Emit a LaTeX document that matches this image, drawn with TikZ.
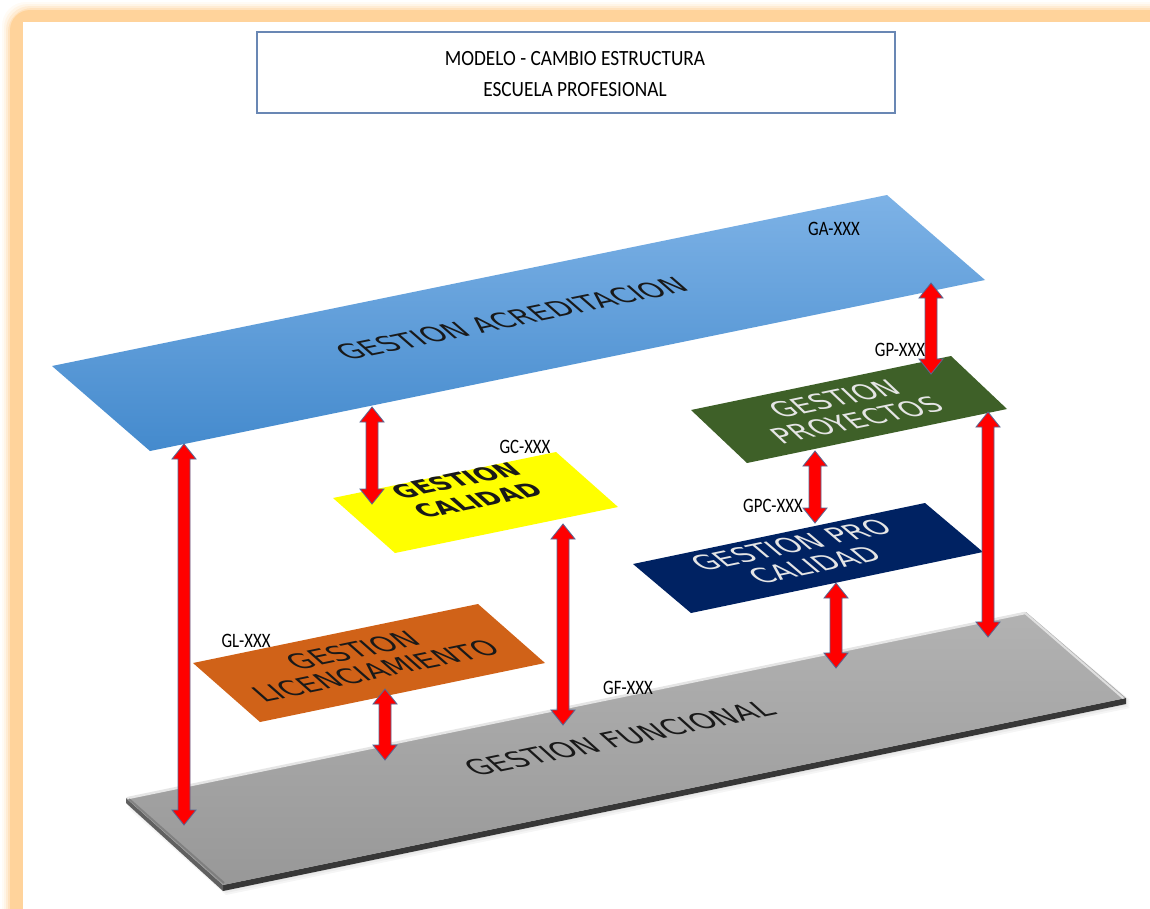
\documentclass[tikz,border=0pt]{standalone}
\usepackage{fontspec}
\usetikzlibrary{calc}
\newfontfamily\planefont{DejaVu Sans}
\newfontfamily\planefontbold{DejaVu Sans Bold}
\newfontfamily\tagfont[FakeStretch=0.82]{Carlito}
\newfontfamily\headfont[FakeStretch=0.89]{Carlito}

\definecolor{framecol}{RGB}{255,211,155}
\definecolor{titleline}{RGB}{105,135,180}
\definecolor{gaTop}{RGB}{125,178,230}
\definecolor{gaMid}{RGB}{92,162,226}
\definecolor{gaBot}{RGB}{68,138,205}
\definecolor{gfTop}{RGB}{178,178,178}
\definecolor{gfBot}{RGB}{152,152,152}
\definecolor{gfEdge}{RGB}{55,55,55}
\definecolor{gcFill}{RGB}{255,255,0}
\definecolor{gpFill}{RGB}{62,96,40}
\definecolor{gpcFill}{RGB}{0,34,98}
\definecolor{glFill}{RGB}{208,98,24}
\definecolor{arrowFill}{RGB}{255,0,0}
\definecolor{arrowLine}{RGB}{85,105,150}
\definecolor{inkdark}{RGB}{25,25,25}

\tikzset{
  planetext/.style={inner sep=0pt, align=center, transform shape,
    font=\planefont\fontsize{28.5}{31}\selectfont, text=inkdark},
  tagtext/.style={inner sep=0pt, font=\tagfont\fontsize{20.5}{24}\selectfont, text=black},
  biarrow/.style={fill=arrowFill, draw=arrowLine, line width=0.8pt, line join=miter},
}

% double-headed block arrow between two vertically aligned points (top, bottom)
\newcommand\bidir[2]{%
  \path[biarrow] let \p1=(#1), \p2=(#2) in
    (\x1,\y1) -- (\x1+12pt,\y1-15pt) -- (\x1+6pt,\y1-15pt) --
    (\x1+6pt,\y2+15pt) -- (\x1+12pt,\y2+15pt) -- (\x1,\y2) --
    (\x1-12pt,\y2+15pt) -- (\x1-6pt,\y2+15pt) -- (\x1-6pt,\y1-15pt) --
    (\x1-12pt,\y1-15pt) -- cycle;}

\begin{document}
\begin{tikzpicture}[x=1pt, y=-1pt]
\useasboundingbox (0,0) rectangle (1150,908);

% glowing frame
\begin{scope}
  \clip (0,0) rectangle (1150,908);
  \foreach \d/\o in {7/0.1,5/0.15,3/0.25,1/0.4}
    {\fill[framecol, opacity=\o, rounded corners=24pt] (9-\d,9-\d) rectangle (1200,960);}
  \fill[framecol, rounded corners=20pt] (10,10) rectangle (1200,960);
  \fill[white] (23,22) rectangle (1200,960);
\end{scope}

% title box
\node[draw=titleline, line width=1.3pt, minimum width=638pt, minimum height=81pt, inner sep=0pt] (title) at (576,72.5) {};
\node[inner sep=0pt, align=center, font=\headfont\fontsize{21.7}{31}\selectfont] (titletext) at (575,74.5)
  {MODELO - CAMBIO ESTRUCTURA\\ESCUELA PROFESIONAL};

% plane corners: L left, T top, R right, B bottom
\coordinate (GA-L) at (52,366);   \coordinate (GA-T) at (887,195);
\coordinate (GA-R) at (985,280);  \coordinate (GA-B) at (150,451);
\coordinate (GF-L) at (126,798);  \coordinate (GF-T) at (1026,612);
\coordinate (GF-R) at (1126,698); \coordinate (GF-B) at (223,885);
\coordinate (GC-L) at (333,498);  \coordinate (GC-T) at (556,452);
\coordinate (GC-R) at (618,507);  \coordinate (GC-B) at (395,553);
\coordinate (GP-L) at (691,410);  \coordinate (GP-T) at (951,356);
\coordinate (GP-R) at (1007,409); \coordinate (GP-B) at (747,463);
\coordinate (GPC-L) at (633,564); \coordinate (GPC-T) at (925,503);
\coordinate (GPC-R) at (983,552); \coordinate (GPC-B) at (691,613);
\coordinate (GL-L) at (193,663);  \coordinate (GL-T) at (478,604);
\coordinate (GL-R) at (545,663);  \coordinate (GL-B) at (260,722);

% functional slab: shadow, side faces, top face
\foreach \k in {2,4,6,8,10}
  {\fill[black, opacity=0.04] ($(GF-L)+(2,\k)$) -- ($(GF-B)+(3,\k)$) -- ($(GF-R)+(4,\k)$) -- ($(GF-T)+(2,\k)$) -- cycle;}
\fill[gfEdge] (GF-B) -- (GF-R) -- ($(GF-R)+(0,6)$) -- ($(GF-B)+(0,6)$) -- cycle;
\fill[gray!75!black] (GF-L) -- (GF-B) -- ($(GF-B)+(0,6)$) -- ($(GF-L)+(0,5)$) -- cycle;
\path[top color=gfTop, bottom color=gfBot] (GF-L) -- (GF-T) -- (GF-R) -- (GF-B) -- cycle;
\draw[white!80!gray, line width=2.5pt, line cap=round] ($(GF-L)+(2,0)$) -- ($(GF-T)+(-1,1)$);
\draw[white!75!gray, line width=2pt, line cap=round] ($(GF-T)+(-1,1)$) -- ($(GF-R)+(-3,0)$);
\draw[gray!80!black, line width=2pt, opacity=0.5] ($(GF-L)+(3,1)$) -- ($(GF-B)+(1,-2)$);

% accreditation plane
\path[top color=gaTop, middle color=gaMid, bottom color=gaBot] (GA-L) -- (GA-T) -- (GA-R) -- (GA-B) -- cycle;
% other planes
\fill[glFill] (GL-L) -- (GL-T) -- (GL-R) -- (GL-B) -- cycle;
\fill[gcFill] (GC-L) -- (GC-T) -- (GC-R) -- (GC-B) -- cycle;
\fill[gpFill] (GP-L) -- (GP-T) -- (GP-R) -- (GP-B) -- cycle;
\fill[gpcFill] (GPC-L) -- (GPC-T) -- (GPC-R) -- (GPC-B) -- cycle;

% texts lying on the planes
\begin{scope}[shift={(518.5,323)}, cm={0.9797,0.2006,-0.7556,0.6553,(0,0)}]
  \node[planetext] (ga-text) at (-2pt,7pt) {GESTION ACREDITACION};
\end{scope}
\begin{scope}[shift={(626,748)}, cm={0.9793,0.2024,-0.7444,0.6677,(0,0)}]
  \node[planetext, font=\planefont\fontsize{29}{31}\selectfont] (gf-text) at (3pt,13pt) {GESTION FUNCIONAL};
\end{scope}
\begin{scope}[shift={(475.5,502.5)}, cm={0.9794,0.2020,-0.748,0.6636,(0,0)}]
  \node[planetext, font=\planefontbold\fontsize{25}{30}\selectfont] (gc-text) at (4pt,17pt) {GESTION\\CALIDAD};
\end{scope}
\begin{scope}[shift={(849,409.5)}, cm={0.9792,0.2034,-0.7263,0.6874,(0,0)}]
  \node[planetext, text=white!90!black, font=\planefont\fontsize{28}{31}\selectfont] (gp-text) at (-3pt,1pt) {GESTION\\PROYECTOS};
\end{scope}
\begin{scope}[shift={(808,558)}, cm={0.9789,0.2045,-0.764,0.6455,(0,0)}]
  \node[planetext, text=white!90!black] (gpc-text) at (-1.5pt,5pt) {GESTION PRO\\CALIDAD};
\end{scope}
\begin{scope}[shift={(369,663)}, cm={0.9793,0.2027,-0.7503,0.6607,(0,0)}]
  \node[planetext] (gl-text) at (-2pt,4pt) {GESTION\\LICENCIAMIENTO};
\end{scope}

% arrow end points
\coordinate (GA-a) at (184,444);  \coordinate (GF-a) at (184,825);
\coordinate (GA-b) at (372,407);  \coordinate (GC-b) at (372,504);
\coordinate (GC-c) at (563,524);  \coordinate (GF-c) at (563,725);
\coordinate (GL-d) at (385,689);  \coordinate (GF-d) at (385,760);
\coordinate (GA-e) at (931,283);  \coordinate (GP-e) at (931,374);
\coordinate (GP-f) at (815,451);  \coordinate (GPC-f) at (815,523);
\coordinate (GPC-g) at (836,583); \coordinate (GF-g) at (836,668);
\coordinate (GP-h) at (988,412);  \coordinate (GF-h) at (988,637);

\bidir{GA-a}{GF-a}
\bidir{GA-b}{GC-b}
\bidir{GC-c}{GF-c}
\bidir{GL-d}{GF-d}
\bidir{GA-e}{GP-e}
\bidir{GP-f}{GPC-f}
\bidir{GPC-g}{GF-g}
\bidir{GP-h}{GF-h}

% code tags
\node[tagtext] (ga-tag)  at (834,229) {GA-XXX};
\node[tagtext] (gp-tag)  at (900,350) {GP-XXX};
\node[tagtext] (gc-tag)  at (525,447) {GC-XXX};
\node[tagtext] (gpc-tag) at (773,506) {GPC-XXX};
\node[tagtext] (gl-tag)  at (246,641) {GL-XXX};
\node[tagtext] (gf-tag)  at (628,688) {GF-XXX};
\end{tikzpicture}
\end{document}
